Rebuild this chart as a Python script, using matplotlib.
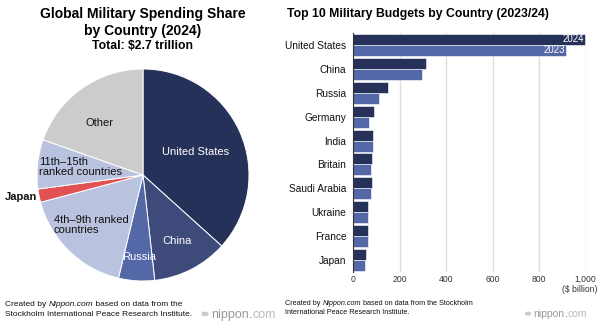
import matplotlib
matplotlib.use("Agg")
import matplotlib.pyplot as plt
from matplotlib.ticker import FuncFormatter

plt.rcParams['font.family'] = ['Liberation Sans', 'DejaVu Sans']

# pie: share of world military spending, 2024 ($ billion)
pie_labels = ["United States", "China", "Russia", "4th\u20139th ranked\ncountries",
              "Japan", "11th\u201315th\nranked countries", "Other"]
pie_values = [997, 314, 149, 466, 55, 204, 533]
pie_colors = ["#26315a", "#3e4a7a", "#5467a6", "#b9c2de", "#e05252", "#b9c2de", "#cccccc"]

# bars: top 10 budgets ($ billion)
countries = ["United States", "China", "Russia", "Germany", "India", "Britain",
             "Saudi Arabia", "Ukraine", "France", "Japan"]
spend_2024 = [997, 314, 149, 88.5, 86.1, 81.8, 80.3, 64.7, 64.7, 55.3]
spend_2023 = [916, 296, 109, 66.8, 83.6, 74.9, 75.7, 64.8, 61.3, 50.2]

W, H = 600, 327
fig = plt.figure(figsize=(6, 3.27), dpi=100)

def px(x, y, w, h):
    return [x / W, 1 - (y + h) / H, w / W, h / H]

# ---- left: pie ----
fig.text(143 / W, 1 - 14 / H, "Global Military Spending Share", ha='center', va='center',
         fontsize=10, fontweight='bold')
fig.text(143 / W, 1 - 31 / H, "by Country (2024)", ha='center', va='center',
         fontsize=10, fontweight='bold')
fig.text(143 / W, 1 - 46 / H, "Total: $2.7 trillion", ha='center', va='center',
         fontsize=8.8, fontweight='bold')

r = 106
pax = fig.add_axes(px(143 - r, 175 - r, 2 * r, 2 * r))
pax.pie(pie_values, colors=pie_colors, startangle=90, counterclock=False,
        radius=1, wedgeprops=dict(edgecolor='white', linewidth=0.7))
pax.set_xlim(-1, 1)
pax.set_ylim(-1, 1)
pax.set_aspect('auto')
pax.axis('off')

lbl = dict(fontsize=8, va='center', clip_on=False)
pax.text(0.50, 0.22, pie_labels[0], color='white', ha='center', **lbl)
pax.text(0.32, -0.62, pie_labels[1], color='white', ha='center', **lbl)
pax.text(-0.035, -0.77, pie_labels[2], color='white', ha='center', **lbl)
pax.text(-0.84, -0.47, pie_labels[3], color='#111111', ha='left', linespacing=1.0, **lbl)
pax.text(-1.0, -0.21, pie_labels[4], color='#111111', ha='right', fontweight='bold', **lbl)
pax.text(-0.98, 0.08, pie_labels[5], color='#111111', ha='left', linespacing=1.0, **lbl)
pax.text(-0.41, 0.49, pie_labels[6], color='#111111', ha='center', **lbl)

# ---- right: bars ----
fig.text(287 / W, 1 - 14 / H, "Top 10 Military Budgets by Country (2023/24)",
         ha='left', va='center', fontsize=8.8, fontweight='bold')

bax = fig.add_axes(px(353.3, 33, 232.4, 239))
ypos = list(range(len(countries)))
h = 0.46
bax.barh([y - h / 2 for y in ypos], spend_2024, height=h, color='#26315a',
         edgecolor='white', linewidth=0.4, zorder=3)
bax.barh([y + h / 2 for y in ypos], spend_2023, height=h, color='#5467a6',
         edgecolor='white', linewidth=0.4, zorder=3)
bax.text(spend_2024[0] - 6, -h / 2, "2024", color='white', ha='right', va='center', fontsize=7, zorder=4)
bax.text(spend_2023[0] - 6, h / 2, "2023", color='white', ha='right', va='center', fontsize=7, zorder=4)

bax.set_xlim(0, 1000)
bax.set_ylim(9.5, -0.5)
bax.set_yticks(ypos)
bax.set_yticklabels(countries, fontsize=7.3, color='#111111')
bax.set_xticks([0, 200, 400, 600, 800, 1000])
bax.xaxis.set_major_formatter(FuncFormatter(lambda v, p: f"{int(v):,}"))
bax.tick_params(axis='x', labelsize=6.2, colors='#333333', length=0, pad=2)
bax.tick_params(axis='y', length=0, pad=5)
bax.grid(axis='x', color='#dddddd', linewidth=1, zorder=0)
for s in ['top', 'right', 'bottom']:
    bax.spines[s].set_visible(False)
bax.spines['left'].set_color('#333333')
bax.spines['left'].set_linewidth(0.8)
bax.spines['left'].set_zorder(5)
fig.text(597 / W, 1 - 290 / H, "($ billion)", ha='right', va='center', fontsize=6.2, color='#333333')

# ---- footers ----
def credit(x, y, size, gap, lines):
    t = fig.text(x / W, 1 - y / H, "Created by ", fontsize=size, color='#111111', va='baseline')
    t = fig.add_artist(plt.Annotation("Nippon.com", xy=(1, 0), xycoords=t, va='bottom',
                                      fontsize=size, style='italic', color='#111111'))
    fig.add_artist(plt.Annotation(lines[0], xy=(1, 0), xycoords=t, va='bottom',
                                  fontsize=size, color='#111111'))
    fig.text(x / W, 1 - (y + gap) / H, lines[1], fontsize=size, color='#111111', va='baseline')

def logo(x, y, size, rad):
    fig.patches.append(plt.Circle((x / W, 1 - (y - size * 0.45) / H), rad / W,
                                  transform=fig.transFigure, color='#cccccc', figure=fig))
    t = fig.text((x + rad + 3) / W, 1 - y / H, "nippon", fontsize=size, color='#999999',
                 va='baseline')
    t = fig.add_artist(plt.Annotation(".", xy=(1, 0), xycoords=t, va='bottom',
                                      fontsize=size, color='#e03030'))
    fig.add_artist(plt.Annotation("com", xy=(1, 0), xycoords=t, va='bottom',
                                  fontsize=size, color='#bbbbbb'))

credit(5, 306, 6.0, 10, [" based on data from the", "Stockholm International Peace Research Institute."])
credit(285, 305, 5.2, 9, [" based on data from the Stockholm", "International Peace Research Institute."])
logo(205, 318, 9, 3)
logo(528, 317, 7.5, 2.5)

fig.savefig("out.png", dpi=100)
